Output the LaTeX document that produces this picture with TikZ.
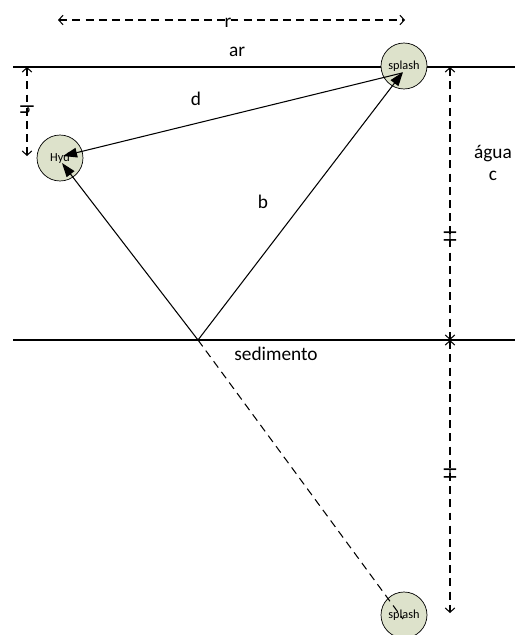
\documentclass[tikz,border=0pt]{standalone}
\usepackage{fontspec}
\setmainfont{Carlito}
\usepackage{tikz}
\usetikzlibrary{positioning, arrows.meta, calc}
\definecolor{bubble}{HTML}{DDE2CB}

\begin{document}
\begin{tikzpicture}[
  x=0.02cm, y=-0.02cm,
  every node/.style={font=\fontsize{11}{13}\selectfont},
  hydro/.style={draw, circle, fill=bubble, minimum size=0.92cm, inner sep=0pt,
    font=\fontsize{7}{8}\selectfont},
  ray/.style={line width=0.6pt, -{Triangle[length=8pt, width=5.5pt]}},
  dim/.style={line width=0.6pt, dash pattern=on 4.5pt off 3pt,
    {Straight Barb[length=2.5pt, width=5.5pt]}-{Straight Barb[length=2.5pt, width=5.5pt]}},
  layer/.style={line width=0.6pt}
]
  \useasboundingbox (0,0) rectangle (515,635);

  % Surfaces
  \draw[layer] (13,67) -- (515,67);
  \draw[layer] (13,340) -- (515,340);

  % Nodes
  \node[hydro] (splash) at (404,66) {splash};
  \node[hydro] (hyd) at (60,158) {Hyd};
  \node[hydro] (image) at (404,615) {splash};
  \coordinate (refl) at (198,340);

  % Dimension ends
  \coordinate (rL) at (58,20);
  \coordinate (rR) at (405,20);
  \coordinate (hT) at (27,67);
  \coordinate (hB) at (27,156);
  \coordinate (HT) at (450,67);
  \coordinate (HM) at (450,340);
  \coordinate (HB) at (450,613);

  % Rays
  \draw[ray] ([shift={(-2,7)}]splash.center) -- ([shift={(3,-2)}]hyd.center);
  \draw[ray] (refl) -- ([shift={(-1,6)}]splash.center);
  \draw[ray] (refl) -- ([shift={(2,5)}]hyd.center);
  \draw[layer, dash pattern=on 4.5pt off 3pt] (refl) -- ([shift={(-1,4)}]image.center);

  % Dimensions
  \draw[dim] (rL) -- node[pos=0.49, yshift=-1.5pt] {r} (rR);
  \draw[dim] (hT) -- node[rotate=-90, pos=0.48] {h} (hB);
  \draw[dim] (HT) -- node[rotate=-90, pos=0.62] {H} (HM);
  \draw[dim] (HM) -- node[rotate=-90, pos=0.49] {H} (HB);

  % Labels
  \node (ar) at (237,52) {ar};
  \node (d) at (196,99) {d};
  \node (b) at (263,202) {b};
  \node[align=center] (agua) at (493,163) {água\\c};
  \node (sed) at (276,354) {sedimento};
\end{tikzpicture}
\end{document}
